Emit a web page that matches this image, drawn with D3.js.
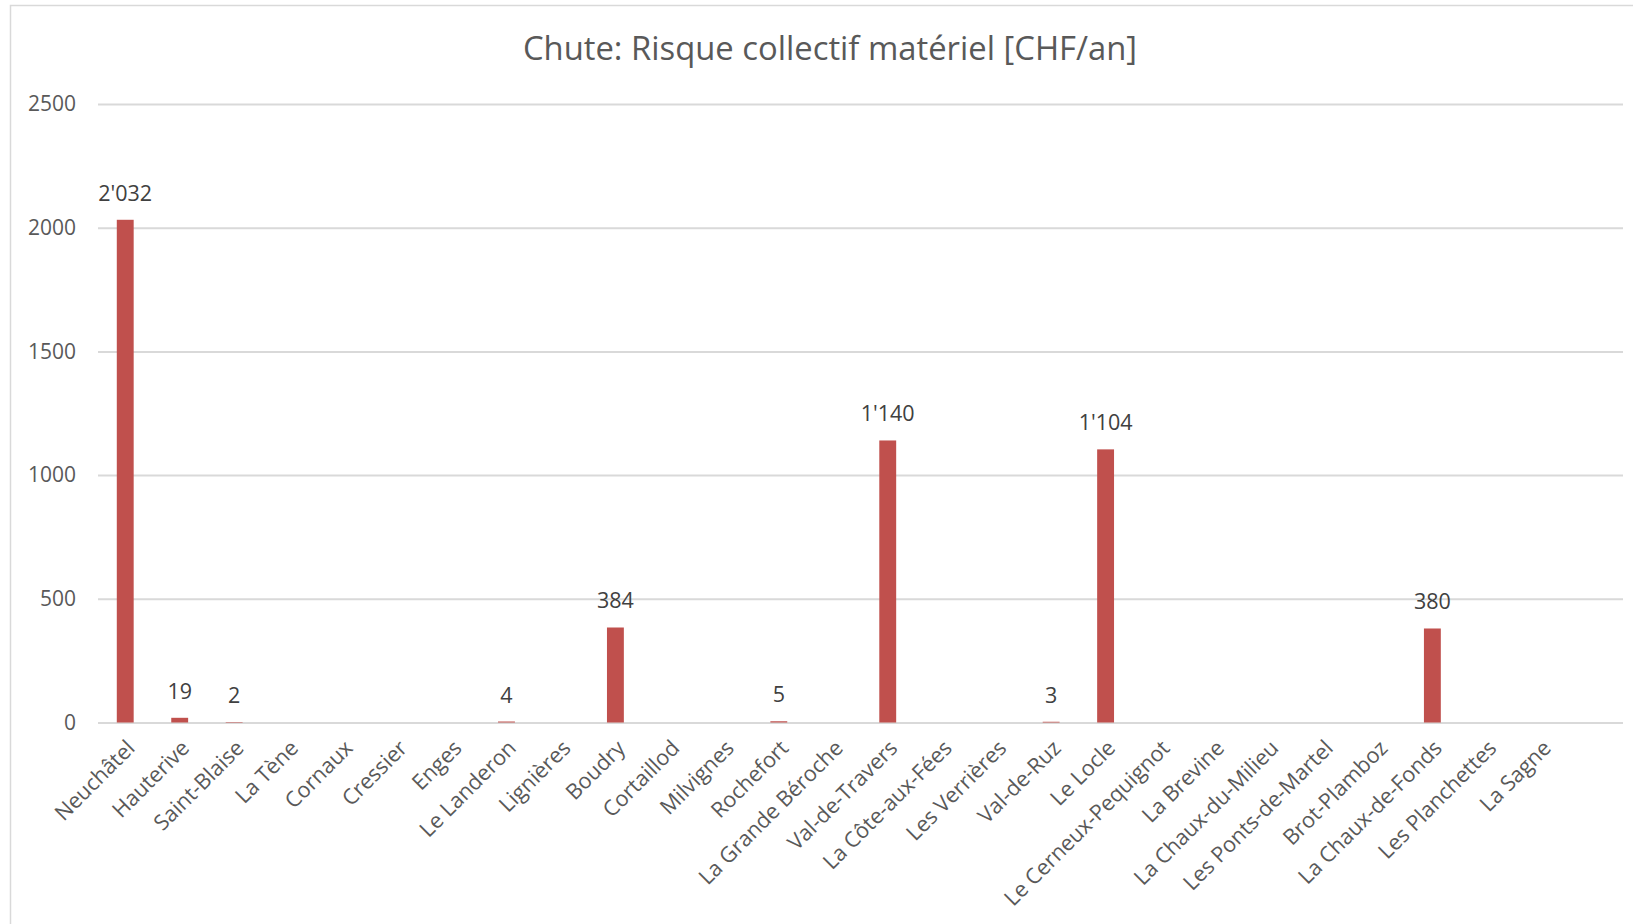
<!DOCTYPE html>
<html>
<head>
<meta charset="utf-8">
<script src="https://cdn.jsdelivr.net/npm/d3@7"></script>
<style>
  html, body { margin: 0; padding: 0; background: #fff; overflow: hidden; }
  text { font-family: "Open Sans", "Noto Sans", sans-serif; }
</style>
</head>
<body>
<div id="chart"></div>
<script>
// donnees
const communes = [
  'Neuchâtel', 'Hauterive', 'Saint-Blaise', 'La Tène', 'Cornaux', 'Cressier',
  'Enges', 'Le Landeron', 'Lignières', 'Boudry', 'Cortaillod', 'Milvignes',
  'Rochefort', 'La Grande Béroche', 'Val-de-Travers', 'La Côte-aux-Fées',
  'Les Verrières', 'Val-de-Ruz', 'Le Locle', 'Le Cerneux-Pequignot',
  'La Brevine', 'La Chaux-du-Milieu', 'Les Ponts-de-Martel', 'Brot-Plamboz',
  'La Chaux-de-Fonds', 'Les Planchettes', 'La Sagne',
];
const risque = [
  2032, 19, 2, 0, 0, 0,
  0, 4, 0, 384, 0, 0,
  5, 0, 1140, 0,
  0, 3, 1104, 0,
  0, 0, 0, 0,
  380, 0, 0,
];
const yTicks = [0, 500, 1000, 1500, 2000, 2500];
const titre = 'Chute: Risque collectif matériel [CHF/an]';

const W = 1633, H = 924;
const margin = { top: 104, right: 10, bottom: 201.5, left: 98 };
const innerW = W - margin.left - margin.right;
const innerH = H - margin.top - margin.bottom;
// une case vide en fin d'axe, comme dans Excel
const slots = communes.length + 1;

const fmt = v => d3.format(',')(v).replace(/,/g, "'");

const svg = d3.select('#chart').append('svg')
  .attr('width', W)
  .attr('height', H);

// cadre du graphique
svg.append('rect')
  .attr('x', 10.5).attr('y', 5.5)
  .attr('width', 1660).attr('height', 960)
  .attr('fill', 'none')
  .attr('stroke', '#d9d9d9')
  .attr('stroke-width', 1.5);

svg.append('text')
  .attr('x', 830)
  .attr('y', 60)
  .attr('text-anchor', 'middle')
  .attr('fill', '#595959')
  .style('font-size', '32.8px')
  .text(titre);

const g = svg.append('g')
  .attr('transform', `translate(${margin.left},${margin.top})`);

const x = d3.scaleBand()
  .domain(communes)
  .range([0, innerW * communes.length / slots])
  .paddingInner(0.69)
  .paddingOuter(0.345);

const y = d3.scaleLinear()
  .domain([0, 2500])
  .range([innerH, 0]);

// grille + graduations
const yAxis = d3.axisLeft(y)
  .tickValues(yTicks)
  .tickSize(-innerW)
  .tickPadding(22)
  .tickFormat(d => d);

const yG = g.append('g').call(yAxis);
yG.select('.domain').remove();
yG.selectAll('.tick line')
  .attr('stroke', '#d9d9d9')
  .attr('stroke-width', 2);
yG.selectAll('.tick text')
  .attr('fill', '#595959')
  .style('font-size', '21px');

// barres
g.selectAll('.bar')
  .data(risque.map((v, i) => ({ c: communes[i], v })))
  .enter()
  .append('rect')
  .attr('class', 'bar')
  .attr('x', d => x(d.c))
  .attr('width', x.bandwidth())
  .attr('y', d => y(d.v))
  .attr('height', d => y(0) - y(d.v))
  .attr('fill', '#c0504d');

// etiquettes de valeurs
g.selectAll('.lbl')
  .data(risque.map((v, i) => ({ c: communes[i], v })).filter(d => d.v > 0))
  .enter()
  .append('text')
  .attr('class', 'lbl')
  .attr('x', d => x(d.c) + x.bandwidth() / 2)
  .attr('y', d => y(d.v) - 19)
  .attr('text-anchor', 'middle')
  .attr('fill', '#404040')
  .style('font-size', '21.5px')
  .text(d => fmt(d.v));

// axe x, etiquettes inclinees
const xAxis = d3.axisBottom(x).tickSize(0).tickPadding(0);
const xG = g.append('g')
  .attr('transform', `translate(0,${innerH})`)
  .call(xAxis);
xG.select('.domain').remove();
xG.selectAll('.tick text')
  .attr('fill', '#595959')
  .style('font-size', '21.6px')
  .attr('text-anchor', 'end')
  .attr('dy', 0)
  .attr('y', 0)
  .attr('transform', 'translate(11,27) rotate(-45)');
</script>
</body>
</html>
